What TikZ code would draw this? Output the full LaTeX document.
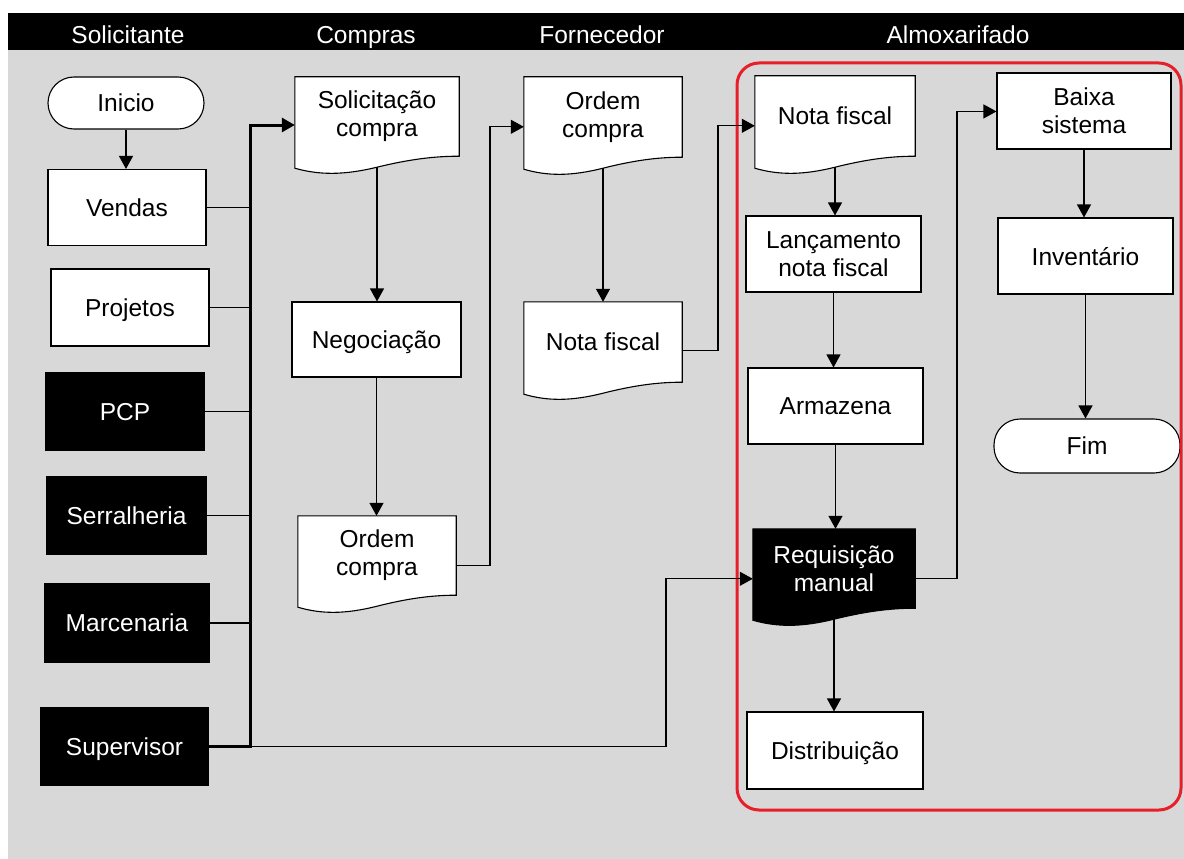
\documentclass[tikz,border=0pt]{standalone}
\usepackage{fontspec}
\setmainfont{Liberation Sans}
\usetikzlibrary{arrows.meta,calc}
\pgfdeclarelayer{docs}
\pgfsetlayers{docs,main}

\definecolor{lanegray}{RGB}{216,216,216}
\definecolor{hilite}{RGB}{232,30,40}

\tikzset{
  lbl/.style={font=\fontsize{24.5}{28}\selectfont, align=center, inner sep=0pt},
  one/.style={text depth=0pt},
  wh/.style 2 args={minimum width=#1pt, minimum height=#2pt},
  box/.style={lbl, rectangle, draw=black, fill=white, line width=1.1pt},
  blk/.style={lbl, rectangle, draw=black, fill=black, text=white, line width=1.1pt},
  term/.style={box, rounded corners=26pt},
  doc/.style={lbl, rectangle, draw=none},
  docblk/.style={doc, text=white},
  head/.style={lbl, one, text=white},
  tip/.style={-{Triangle[width=14pt,length=13pt]}},
  link/.style={draw=black, line width=1.2pt},
  arr/.style={link, tip},
  busline/.style={draw=black, line width=3pt, line join=miter},
}

% document symbol: straight top and sides, wavy bottom edge below the node
\newcommand\docshape[2]{%
  \begin{pgfonlayer}{docs}
    \path[draw=black, line width=1.1pt, fill=#2]
      let \p1=(#1.north west), \p2=(#1.south east), \n1={\x2-\x1} in
      (\x1,\y1) -- (\x2,\y1) -- (\x2,\y2)
      .. controls (\x2-0.15*\n1,\y2) and (\x2-0.3*\n1,\y2-3pt) .. (\x1+0.5*\n1,\y2-11pt)
      .. controls (\x1+0.3*\n1,\y2-19pt) and (\x1+0.15*\n1,\y2-19pt) .. (\x1,\y2-12pt)
      -- cycle;
  \end{pgfonlayer}}

\begin{document}
\begin{tikzpicture}[x=1pt,y=-1pt]
  \useasboundingbox (0,0) rectangle (1184,859);

  % lanes background and header band
  \begin{pgfonlayer}{docs}
    \fill[lanegray] (8,50) rectangle (1184,859);
    \fill[black] (8,13) rectangle (1184,50);
  \end{pgfonlayer}
  \node[head] (h1) at (128,34.5) {Solicitante};
  \node[head] (h2) at (366,34.5) {Compras};
  \node[head] (h3) at (602,34.5) {Fornecedor};
  \node[head] (h4) at (958,34.5) {Almoxarifado};

  % Solicitante
  \node[term, one, wh={156}{52}] (ini) at (126,103) {Inicio};
  \node[box, one, wh={158}{76}] (ven) at (127,207.5) {Vendas};
  \node[box, one, wh={158}{77}] (pro) at (130,307.5) {Projetos};
  \node[blk, one, wh={158}{77}] (pcp) at (125,411.5) {PCP};
  \node[blk, one, wh={159}{77}] (ser) at (126.5,515.5) {Serralheria};
  \node[blk, one, wh={164}{78}] (mar) at (127,623) {Marcenaria};
  \node[blk, one, wh={167}{77}] (sup) at (124.5,746.5) {Supervisor};

  % Compras
  \node[doc, wh={164}{79}] (sol) at (377,116.5) {Solicitação\\compra};
  \node[box, one, wh={169}{75}] (neg) at (376.5,339.5) {Negociação};
  \node[doc, wh={158}{79}] (oc) at (377,555.5) {Ordem\\compra};

  % Fornecedor
  \node[doc, wh={158}{80}] (of) at (603,117) {Ordem\\compra};
  \node[doc, one, wh={158}{80}] (nf) at (603,342) {Nota fiscal};

  % Almoxarifado
  \node[doc, one, wh={160}{80}] (na) at (835,116) {Nota fiscal};
  \node[box, wh={175}{76}] (lan) at (833.5,254) {Lançamento\\nota fiscal};
  \node[box, one, wh={175}{76}] (arm) at (835.5,406) {Armazena};
  \node[docblk, wh={162}{79}] (req) at (834,568.5) {Requisição\\manual};
  \node[box, one, wh={176}{77}] (dis) at (835,750.5) {Distribuição};
  \node[box, wh={174}{76}] (bai) at (1084,111) {Baixa\\sistema};
  \node[box, one, wh={175}{76}] (inv) at (1085.5,256) {Inventário};
  \node[term, one, wh={186}{54}] (fim) at (1087,446) {Fim};

  \docshape{sol}{white}
  \docshape{oc}{white}
  \docshape{of}{white}
  \docshape{nf}{white}
  \docshape{na}{white}
  \docshape{req}{black}

  % highlighted area
  \draw[hilite, line width=3pt, rounded corners=22pt] (737,63) rectangle (1181,810);

  % junction columns
  \coordinate (bt) at (250,125);
  \coordinate (sj) at (666,0);
  \coordinate (j1) at (490,0);
  \coordinate (j2) at (718,0);
  \coordinate (j3) at (957,0);

  % requesters feeding the purchase request
  \draw[arr] (ini.south) -- (ini.south |- ven.north);
  \foreach \n in {ven,pro,pcp,ser,mar}
    \draw[link] (\n.east) -- (\n.east -| bt);
  \draw[busline, tip] (sup.east) -- (sup.east -| bt) -- (bt) -- (sol.west |- bt);
  \coordinate (rqin) at ($(req.north west)+(0,50)$);
  \draw[arr] (sup.east -| bt) -- (sup.east -| sj) -- (sj |- rqin) -- (rqin);

  % Compras
  \draw[arr] ($(sol.south)+(0,11)$) -- (sol.south |- neg.north);
  \draw[arr] (neg.south) -- (neg.south |- oc.north);
  \coordinate (ocout) at ($(oc.north east)+(0,50)$);
  \coordinate (ofin) at ($(of.north west)+(0,50)$);
  \draw[arr] (ocout) -- (ocout -| j1) -- (j1 |- ofin) -- (ofin);

  % Fornecedor
  \draw[arr] ($(of.south)+(0,11)$) -- (of.south |- nf.north);
  \coordinate (nfout) at ($(nf.north east)+(0,49)$);
  \coordinate (nain) at ($(na.north west)+(0,50)$);
  \draw[arr] (nfout) -- (nfout -| j2) -- (j2 |- nain) -- (nain);

  % Almoxarifado
  \draw[arr] ($(na.south)+(0,11)$) -- (na.south |- lan.north);
  \draw[arr] (lan.south) -- (lan.south |- arm.north);
  \draw[arr] (arm.south) -- (arm.south |- req.north);
  \draw[arr] ($(req.south)+(0,11)$) -- (req.south |- dis.north);
  \coordinate (rqout) at ($(req.north east)+(0,50)$);
  \coordinate (baiin) at ($(bai.north west)+(0,39)$);
  \draw[arr] (rqout) -- (rqout -| j3) -- (j3 |- baiin) -- (baiin);
  \draw[arr] (bai.south) -- (bai.south |- inv.north);
  \draw[arr] (inv.south) -- (inv.south |- fim.north);
\end{tikzpicture}
\end{document}
